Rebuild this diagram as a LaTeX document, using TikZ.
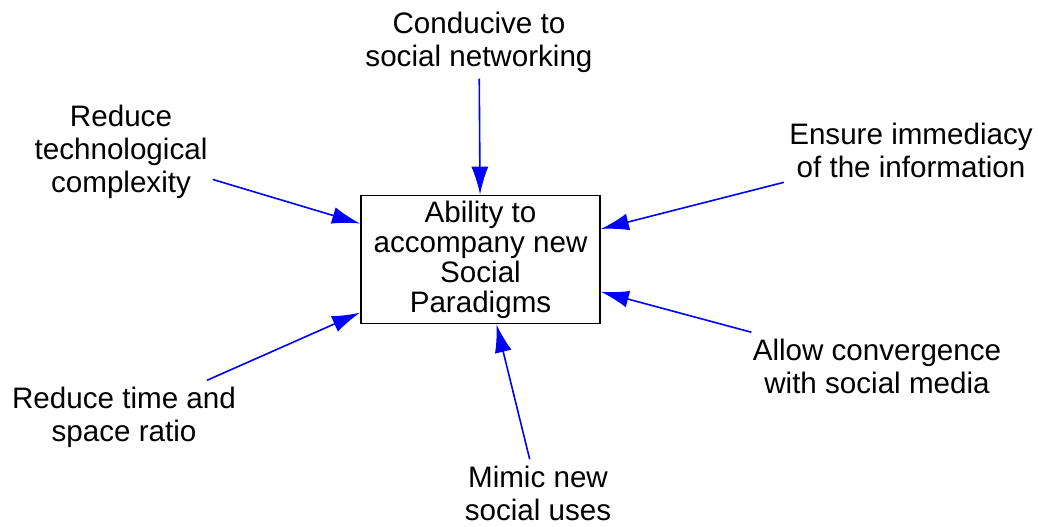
\documentclass[tikz,border=0pt]{standalone}
\usepackage{fontspec}
\setmainfont{Liberation Sans}
\usetikzlibrary{arrows.meta}

\begin{document}
\begin{tikzpicture}[x=0.5pt,y=-0.5pt,
		factor/.style={align=center, inner xsep=2.5pt, inner ysep=3pt, font=\fontsize{14.8pt}{16.5pt}\selectfont},
		goal/.style={draw, line width=0.9pt, align=center, inner sep=0pt, minimum width=119.5pt, minimum height=64pt, font=\fontsize{14.8pt}{15pt}\selectfont},
		link/.style={-{Latex[length=14pt,width=8.5pt]}, color=blue, line width=0.8pt}]
			\useasboundingbox (0,0) rectangle (1038,526);
			\node[goal] (ability) at (480.5,259.5) {Ability to\\accompany new\\Social\\Paradigms};
			\node[factor] (conducive) at (479,42) {Conducive to\\social networking};
			\node[factor] (complexity) at (121,152) {Reduce\\technological\\complexity};
			\node[factor] (immediacy) at (911,150) {Ensure immediacy\\of the information};
			\node[factor] (convergence) at (877,366) {Allow convergence\\with social media};
			\node[factor] (timespace) at (124,417) {Reduce time and\\space ratio};
			\node[factor] (uses) at (538,493) {Mimic new\\social uses};
			\path[link]
			(conducive) edge (ability)
			(complexity) edge (ability)
			(immediacy) edge (ability)
			(convergence) edge (ability)
			(timespace) edge (ability)
			(uses) edge (ability);
		\end{tikzpicture}
\end{document}
